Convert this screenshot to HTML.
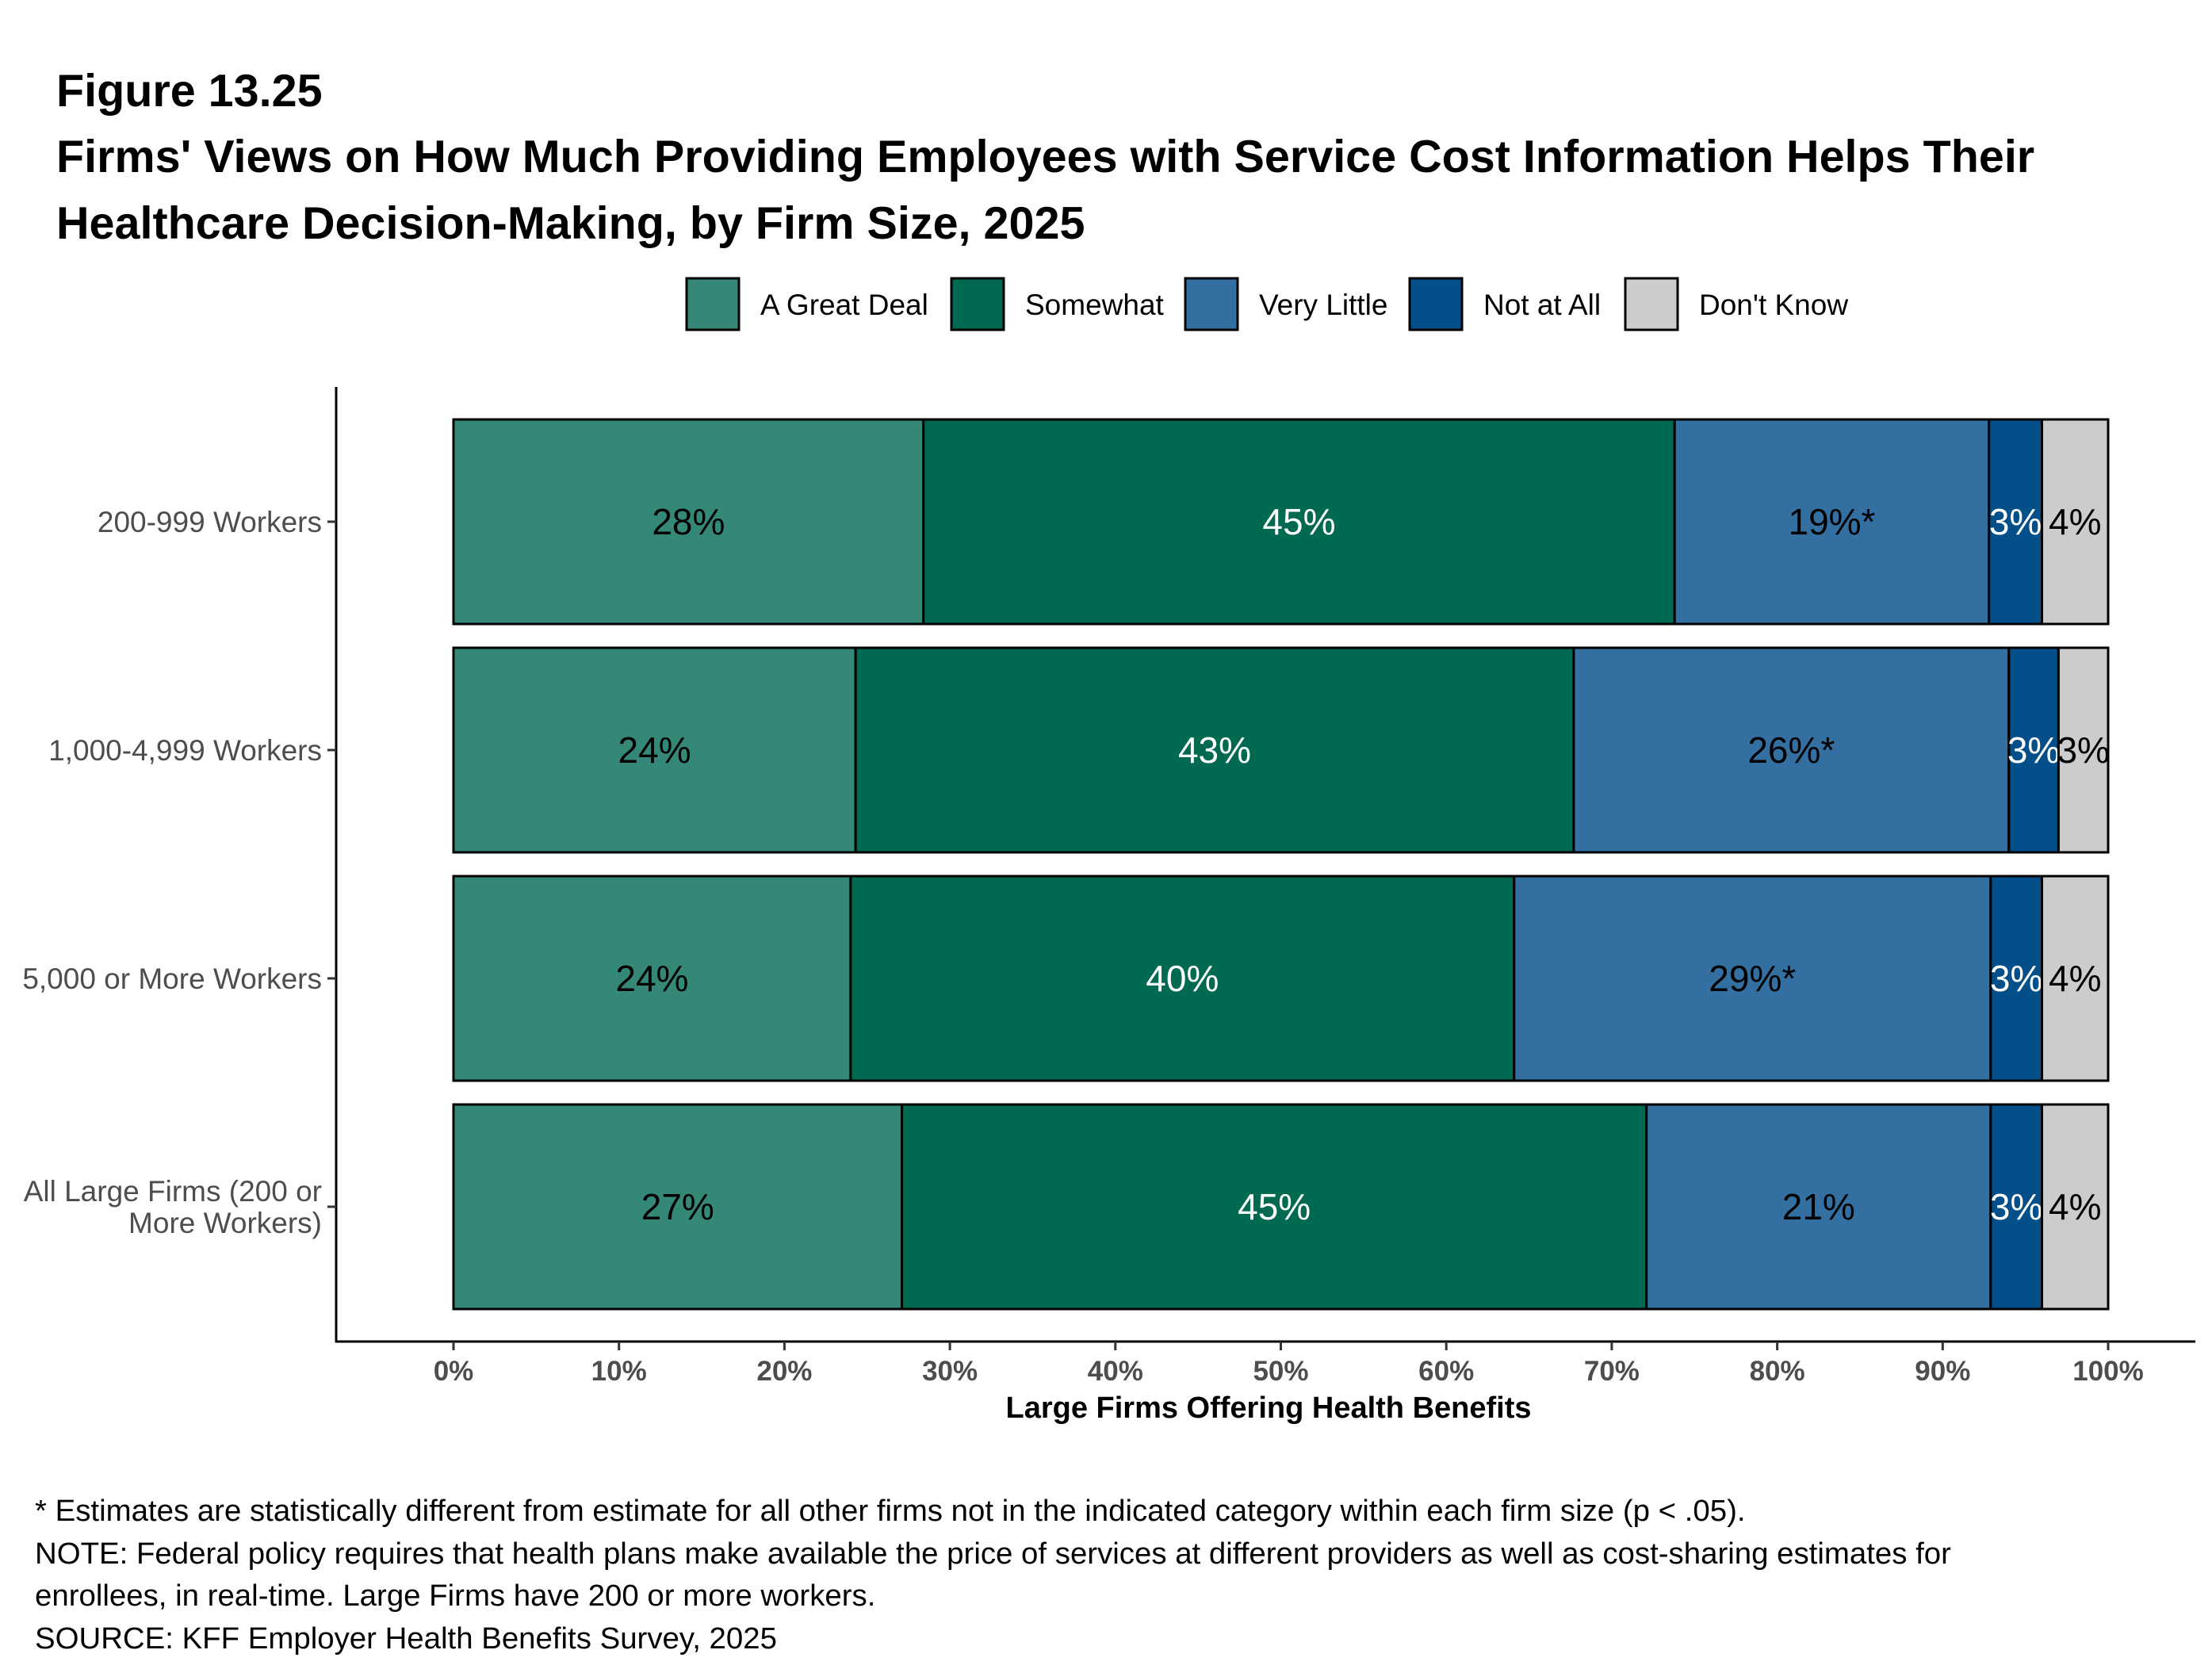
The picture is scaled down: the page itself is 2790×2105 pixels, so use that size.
<!DOCTYPE html>
<html><head><meta charset="utf-8"><style>
html,body{margin:0;padding:0;background:#fff;}
svg text{font-family:"Liberation Sans",Arial,sans-serif;}
</style></head><body>
<svg id="chart" width="2790" height="2100" xmlns="http://www.w3.org/2000/svg">
<rect width="2790" height="2100" fill="#fff"/>
<text x="71" y="134" font-size="57.5" font-weight="bold">Figure 13.25</text>
<text x="71" y="217" font-size="57.5" font-weight="bold">Firms' Views on How Much Providing Employees with Service Cost Information Helps Their</text>
<text x="71" y="301" font-size="57.5" font-weight="bold">Healthcare Decision-Making, by Firm Size, 2025</text>
<g id="legend"></g>
<g id="plot"></g>
<line x1="424" y1="488" x2="424" y2="1693" stroke="#000" stroke-width="3"/>
<line x1="423" y1="1692" x2="2769" y2="1692" stroke="#000" stroke-width="3"/>
<text x="1600" y="1788" font-size="38" font-weight="bold" text-anchor="middle">Large Firms Offering Health Benefits</text>
<g font-size="38.4">
<text x="44" y="1918">* Estimates are statistically different from estimate for all other firms not in the indicated category within each firm size (p &lt; .05).</text>
<text x="44" y="1972">NOTE: Federal policy requires that health plans make available the price of services at different providers as well as cost-sharing estimates for</text>
<text x="44" y="2025">enrollees, in real-time. Large Firms have 200 or more workers.</text>
<text x="44" y="2079">SOURCE: KFF Employer Health Benefits Survey, 2025</text>
</g>
</svg>
<script>
const categories = ["200-999 Workers","1,000-4,999 Workers","5,000 or More Workers","All Large Firms (200 or|More Workers)"];
const seriesNames = ["A Great Deal","Somewhat","Very Little","Not at All","Don't Know"];
const greatDeal = [28.4,24.3,24.0,27.1];
const somewhat = [45.4,43.4,40.1,45.0];
const veryLittle = [19.0,26.3,28.8,20.8];
const notAtAll = [3.2,3.0,3.1,3.1];
const dontKnow = [4.0,3.0,4.0,4.0];
const labelsGreatDeal = ["28%","24%","24%","27%"];
const labelsSomewhat = ["45%","43%","40%","45%"];
const labelsVeryLittle = ["19%*","26%*","29%*","21%"];
const labelsNotAtAll = ["3%","3%","3%","3%"];
const labelsDontKnow = ["4%","3%","4%","4%"];
const xTicks = [0,10,20,30,40,50,60,70,80,90,100];
const xTickLabels = ["0%","10%","20%","30%","40%","50%","60%","70%","80%","90%","100%"];

const colors = ["#358878","#006951","#336FA0","#024F89","#CCCCCC"];
const textColors = ["#000","#fff","#000","#fff","#000"];
const NS="http://www.w3.org/2000/svg";
const x0=572, x1=2659, cy0=658, band=288, barH=258;
const xs = v => x0 + (x1-x0)*v/100;
const yc = i => cy0 + band*i;
function mk(tag, attrs, parent){const e=document.createElementNS(NS,tag);for(const k in attrs)e.setAttribute(k,attrs[k]);parent.appendChild(e);return e;}
const plot=document.getElementById('plot');
const svg=document.getElementById('chart');
const series=[greatDeal,somewhat,veryLittle,notAtAll,dontKnow];
const labels=[labelsGreatDeal,labelsSomewhat,labelsVeryLittle,labelsNotAtAll,labelsDontKnow];
categories.forEach((c,i)=>{
  let cum=0;
  const cy=yc(i);
  series.forEach((s,j)=>{
    const a=xs(cum), b=xs(cum+s[i]);
    const r=mk('rect',{x:a,y:cy-barH/2,width:b-a,height:barH,fill:colors[j],stroke:'#000','stroke-width':3},plot);
    
    
    const t=mk('text',{x:(a+b)/2,y:cy+16,'font-size':46,'text-anchor':'middle',fill:textColors[j]},plot);
    t.textContent=labels[j][i];
    
    
    cum+=s[i];
  });
  const lines=c.split('|');
  lines.forEach((ln,k)=>{
    const t=mk('text',{x:406,y:cy+13+(k-(lines.length-1)/2)*40,'font-size':37,'text-anchor':'end',fill:'#4d4d4d'},svg);
    t.textContent=ln;
    
    
  });
  const tk=mk('line',{x1:413,x2:424,y1:cy,y2:cy,stroke:'#333','stroke-width':3},svg);
  
  
});
xTicks.forEach((v,i)=>{
  const tk=mk('line',{x1:xs(v),x2:xs(v),y1:1692,y2:1703,stroke:'#333','stroke-width':3},svg);
  
  
  const t=mk('text',{x:xs(v),y:1741,'font-size':35,'font-weight':'bold','text-anchor':'middle',fill:'#4d4d4d'},svg);
  t.textContent=xTickLabels[i];
  
  
});
const legend=document.getElementById('legend');
const boxX=[866,1200,1495,1778,2050];
seriesNames.forEach((n,j)=>{
  const r=mk('rect',{x:boxX[j],y:351,width:66,height:65,fill:colors[j],stroke:'#000','stroke-width':3},legend);
  
  
  const t=mk('text',{x:boxX[j]+93,y:397,'font-size':37},legend);
  t.textContent=n;
  
  
});
</script>
</body></html>
